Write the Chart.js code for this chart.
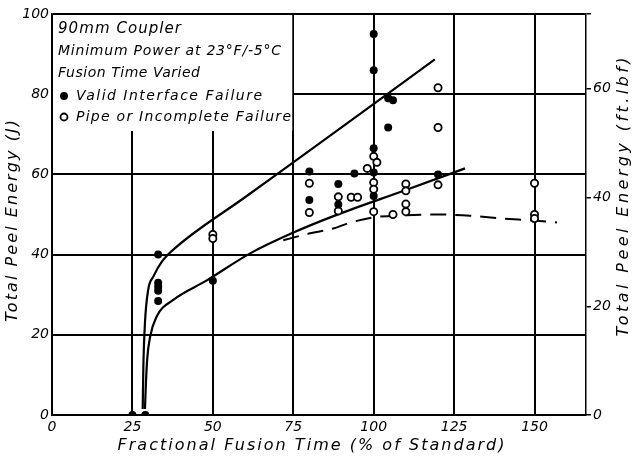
<!DOCTYPE html>
<html>
<head>
<meta charset="utf-8">
<script src="https://cdn.jsdelivr.net/npm/chart.js@4.4.0/dist/chart.umd.min.js"></script>
<style>
  body { margin: 0; background: #fff; }
  canvas { display: block; }
</style>
</head>
<body>
<canvas id="peelChart" width="632" height="463"></canvas>
<script>
// Valid interface failure (filled dots)
const validX = [25, 29, 33, 33, 33, 33, 33, 50, 80, 80, 89, 89, 94, 100, 100, 100, 100, 100, 104.5, 106, 104.5, 120];
const validY = [0, 0, 40, 33, 32, 31, 28.4, 33.5, 60.7, 53.6, 57.6, 52.5, 60.2, 95, 86, 66.5, 60.5, 54.6, 79, 78.5, 71.7, 60];

// Pipe or incomplete failure (open circles)
const pipeX = [50, 50, 80, 80, 89, 89, 93, 95, 98, 100, 101, 100, 100, 100, 106, 110, 110, 110, 110, 120, 120, 120, 150, 150, 150];
const pipeY = [45, 44, 57.8, 50.5, 54.4, 50.9, 54.3, 54.3, 61.5, 64.5, 63, 58, 56.3, 50.7, 50, 57.6, 55.9, 52.6, 50.7, 81.6, 71.7, 57.4, 57.8, 50, 49];

// hand drawn trend curves
const upperX = [28.2, 28.4, 28.9, 29.9, 31.5, 34.1, 38.8, 60, 90, 119];
const upperY = [1.5, 12, 23, 31.2, 34.5, 38.2, 42, 54.3, 71.7, 88.7];
const lowerX = [28.9, 29.2, 29.6, 30.5, 32.5, 37.7, 48, 61.6, 74.5, 88.5, 110, 128.4];
const lowerY = [1.5, 8, 14, 19.5, 24.5, 28.7, 33.5, 40.3, 45.3, 49.9, 56.1, 61.5];
const dashX = [71.9, 80.2, 87.4, 92, 100, 110, 120, 130, 140, 150, 157];
const dashY = [43.6, 45.3, 46.5, 47.8, 49.3, 49.8, 50, 49.7, 49, 48.5, 48];

const xTicks = [0, 25, 50, 75, 100, 125, 150];
const JOULES_PER_FTLBF = 1.3558;

const legendLines = ['90mm Coupler', 'Minimum Power at 23°F/-5°C', 'Fusion Time Varied'];
const seriesNames = ['Valid Interface Failure', 'Pipe or Incomplete Failure'];

function pts(xs, ys) {
    return xs.map((x, i) => ({ x: x, y: ys[i] }));
}

const FONT = "'DejaVu Sans', sans-serif";

// draw text stretched to a given length with letter spacing
function spacedText(ctx, text, cx, cy, len, angle, font) {
    ctx.save();
    ctx.translate(cx, cy);
    ctx.rotate(angle);
    ctx.font = font;
    ctx.letterSpacing = '0px';
    const w = ctx.measureText(text).width;
    const sp = Math.max(0, (len - w) / (text.length - 1));
    ctx.letterSpacing = sp + 'px';
    ctx.textAlign = 'left';
    ctx.textBaseline = 'middle';
    ctx.fillStyle = '#000';
    ctx.fillText(text, -len / 2, 0);
    ctx.restore();
}

function leftText(ctx, text, x, y, len, font) {
    ctx.save();
    ctx.font = font;
    ctx.letterSpacing = '0px';
    const w = ctx.measureText(text).width;
    const sp = (len - w) / (text.length - 1);
    ctx.letterSpacing = sp + 'px';
    ctx.textAlign = 'left';
    ctx.textBaseline = 'middle';
    ctx.fillStyle = '#000';
    ctx.fillText(text, x, y);
    ctx.restore();
}

const boxPlugin = {
    id: 'legendBox',
    beforeDatasetsDraw(chart) {
        const ctx = chart.ctx;
        const a = chart.chartArea;
        const right = chart.scales.x.getPixelForValue(75);
        ctx.save();
        ctx.fillStyle = '#fff';
        ctx.fillRect(a.left + 1, a.top + 1, right - a.left - 2, 116);
        ctx.restore();

        leftText(ctx, legendLines[0], 58, 29, 123, 'italic 15px ' + FONT);
        leftText(ctx, legendLines[1], 58, 51, 223, 'italic 14px ' + FONT);
        leftText(ctx, legendLines[2], 58, 73, 142, 'italic 14px ' + FONT);
        leftText(ctx, seriesNames[0], 76, 96, 186, 'italic 14px ' + FONT);
        leftText(ctx, seriesNames[1], 76, 117, 215, 'italic 14px ' + FONT);

        ctx.save();
        ctx.beginPath();
        ctx.arc(64, 96, 4, 0, Math.PI * 2);
        ctx.fillStyle = '#000';
        ctx.fill();
        ctx.beginPath();
        ctx.arc(64, 117, 3.5, 0, Math.PI * 2);
        ctx.lineWidth = 1.8;
        ctx.strokeStyle = '#000';
        ctx.stroke();
        ctx.restore();
    },
    afterDraw(chart) {
        const ctx = chart.ctx;
        const tf = 'italic 16px ' + FONT;
        spacedText(ctx, 'Fractional Fusion Time (% of Standard)', 311, 446, 387, 0, tf);
        spacedText(ctx, 'Total Peel Energy (J)', 13, 221, 202, -Math.PI / 2, tf);
        spacedText(ctx, 'Total Peel Energy (ft.lbf)', 624, 197, 279, -Math.PI / 2, tf);
    }
};

const tickFont = { family: FONT, size: 14, style: 'italic' };

const ctx = document.getElementById('peelChart').getContext('2d');
const chart = new Chart(ctx, {
    type: 'scatter',
    data: {
        datasets: [{
            label: seriesNames[0],
            data: pts(validX, validY),
            pointRadius: 4,
            pointBackgroundColor: '#000',
            pointBorderColor: '#000',
            pointBorderWidth: 0,
            order: 0
        },
        {
            label: seriesNames[1],
            data: pts(pipeX, pipeY),
            pointRadius: 3.6,
            pointBackgroundColor: '#fff',
            pointBorderColor: '#000',
            pointBorderWidth: 1.8,
            order: 0
        },
        {
            label: 'upper',
            data: pts(upperX, upperY),
            showLine: true,
            cubicInterpolationMode: 'monotone',
            borderColor: '#000',
            borderWidth: 2.2,
            pointRadius: 0,
            order: 1
        },
        {
            label: 'lower',
            data: pts(lowerX, lowerY),
            showLine: true,
            cubicInterpolationMode: 'monotone',
            borderColor: '#000',
            borderWidth: 2.2,
            pointRadius: 0,
            order: 1
        },
        {
            label: 'dashed',
            data: pts(dashX, dashY),
            showLine: true,
            cubicInterpolationMode: 'monotone',
            borderColor: '#000',
            borderWidth: 2,
            borderDash: [16, 9],
            pointRadius: 0,
            order: 1
        }]
    },
    options: {
        responsive: false,
        devicePixelRatio: 1,
        animation: false,
        layout: { padding: { top: 14, left: 0, right: 0, bottom: 0 } },
        plugins: {
            legend: { display: false },
            tooltip: { enabled: false }
        },
        scales: {
            x: {
                type: 'linear',
                min: 0,
                max: 166,
                afterFit: s => { s.height = 48; },
                afterBuildTicks: s => { s.ticks = xTicks.map(v => ({ value: v })); },
                border: { color: '#000', width: 1.5 },
                grid: { color: '#000', lineWidth: 2, drawTicks: false },
                ticks: { color: '#000', font: tickFont, padding: 4 }
            },
            y: {
                type: 'linear',
                position: 'left',
                min: 0,
                max: 100,
                afterFit: s => { s.width = 52; },
                border: { color: '#000', width: 1.5 },
                grid: { color: '#000', lineWidth: 2, drawTicks: false },
                ticks: { color: '#000', font: tickFont, stepSize: 20, padding: 3 }
            },
            y2: {
                type: 'linear',
                position: 'right',
                min: 0,
                max: 100 / JOULES_PER_FTLBF,
                afterFit: s => { s.width = 46; },
                border: { color: '#000', width: 1.5 },
                grid: { drawOnChartArea: false, color: '#000', lineWidth: 1.5, tickLength: 5 },
                ticks: {
                    color: '#000',
                    font: tickFont,
                    stepSize: 20,
                    padding: 2,
                    callback: v => (v % 20 === 0 ? v : '')
                }
            }
        }
    },
    plugins: [boxPlugin]
});
</script>
</body>
</html>
